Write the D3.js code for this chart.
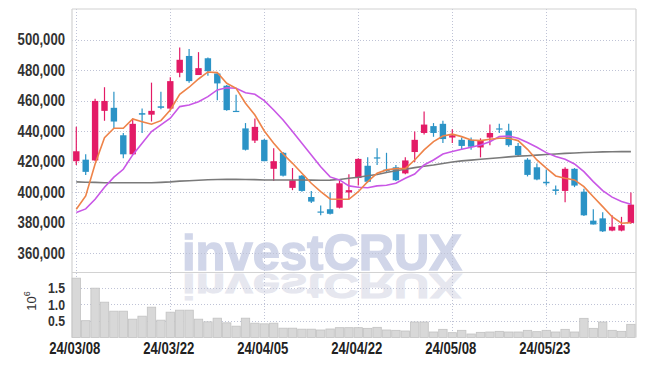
<!DOCTYPE html>
<html><head><meta charset="utf-8">
<script src="https://cdn.jsdelivr.net/npm/d3@7/dist/d3.min.js"></script>
<style>
html,body{margin:0;padding:0;background:#fff;}
svg{display:block;}
</style></head>
<body>
<svg id="chart" width="645" height="366"></svg>
<script>
const dates = ["24/03/08","24/03/11","24/03/12","24/03/13","24/03/14","24/03/15","24/03/18","24/03/19","24/03/20","24/03/21",
"24/03/22","24/03/25","24/03/26","24/03/27","24/03/28","24/03/29","24/04/01","24/04/02","24/04/03","24/04/04",
"24/04/05","24/04/08","24/04/09","24/04/11","24/04/12","24/04/15","24/04/16","24/04/17","24/04/18","24/04/19",
"24/04/22","24/04/23","24/04/24","24/04/25","24/04/26","24/04/29","24/04/30","24/05/02","24/05/03","24/05/07",
"24/05/08","24/05/09","24/05/10","24/05/13","24/05/14","24/05/16","24/05/17","24/05/20","24/05/21","24/05/22",
"24/05/23","24/05/24","24/05/27","24/05/28","24/05/29","24/05/30","24/05/31","24/06/03","24/06/04","24/06/05"];
const dateTicks = ["24/03/08","24/03/22","24/04/05","24/04/22","24/05/08","24/05/23"];
const open  = [420500,421500,421000,453500,455500,437500,425000,452000,451000,456500,455000,478500,489500,477000,488000,478000,470000,453500,442000,434000,434500,415500,426000,403000,411000,397000,387500,389000,390000,400000,409500,417500,423000,415000,416500,412500,426500,439000,443500,445000,436000,434500,434500,429500,436000,442000,440500,430500,421500,416500,407000,402000,401000,415500,400500,381500,383000,375000,375000,380000];
const high  = [443000,425000,461500,469000,466000,439000,448500,455000,472000,466000,475500,495000,494000,492000,488500,478500,470500,464000,445500,448500,435000,429000,426500,416000,411500,401000,391500,400000,408000,412000,422500,423000,429000,426000,418000,423000,440000,453000,445500,447000,441500,436000,436000,435500,444500,445000,445000,432500,422500,419000,415000,404500,416500,416000,402500,389000,387000,385000,384000,400000];
const low   = [418000,411500,420500,447000,442000,422500,424500,439000,446500,454500,454000,475500,472000,477000,476500,460500,453500,453000,427500,432500,420500,407500,410500,401500,400500,393000,385000,385500,389500,395500,404500,406500,418000,413500,407500,412000,420000,438000,436500,432500,432500,428000,428000,423000,431000,439000,430000,423500,410500,408000,404500,398500,393500,403500,384500,379000,374000,374500,374500,379500];
const close = [427000,413500,460000,460000,446500,425000,445000,451000,453500,455500,473000,487000,473000,481500,479500,471500,454000,453000,428000,443000,420500,420500,411000,408000,401000,394000,387000,386000,406000,401500,422000,407000,422500,414000,408000,421000,434500,444500,439000,435000,437500,430500,430000,434000,439000,441500,431000,424500,411500,408500,406000,401000,415500,404500,385000,379000,374500,377500,378500,392000];
const ma5  = [389000,397700,418700,435900,442100,442100,448200,446400,444700,447100,454100,464400,469000,474400,479000,478600,471600,468300,458500,450800,440300,432300,425200,419100,412600,406000,400500,395700,395500,395500,400500,407100,412600,414800,415600,415600,421300,427900,433300,437000,438200,436600,434400,434000,434900,435500,435500,434000,428300,421300,415900,410800,409300,408200,403800,397200,390700,384100,379800,380200];
const ma10 = [386800,389200,395500,403400,410000,415200,424600,432300,439900,444300,448700,456300,457400,459500,462800,467200,468700,468300,465400,464400,460200,454100,447500,439900,432300,424600,416900,410200,408200,404300,403400,403100,404300,404700,406000,409300,412100,418000,421300,425200,426800,428300,429600,431100,433300,436600,437000,435500,432700,429600,426100,423500,421800,418700,413600,407100,401200,396900,394000,392300];
const maLong = [406900,406700,406600,406400,406400,406400,406400,406400,406400,406600,406900,407400,407700,408000,408300,408500,408600,408600,408500,408400,408200,408200,408200,408200,408200,408100,408000,408100,408500,409300,410000,411000,411800,413100,414200,415200,416300,417200,418000,419000,420000,420700,421200,421800,422300,422800,423300,423800,424100,424500,424900,425200,425600,425900,426200,426400,426600,426700,426800,426800];
const volume = [1.78,0.505,1.48,1.06,0.79,0.79,0.55,0.64,0.91,0.52,0.76,0.82,0.82,0.55,0.47,0.58,0.44,0.34,0.58,0.43,0.41,0.43,0.28,0.28,0.25,0.25,0.225,0.255,0.295,0.295,0.295,0.275,0.305,0.225,0.215,0.195,0.465,0.465,0.165,0.245,0.145,0.215,0.105,0.155,0.165,0.185,0.165,0.165,0.215,0.175,0.215,0.165,0.245,0.165,0.575,0.275,0.465,0.215,0.185,0.395];
const priceTicks = [360000,380000,400000,420000,440000,460000,480000,500000];
const volTicks = [0.5,1.0,1.5];

const L = 72, R = 636, PT = 9, PB = 272.5, VT = 272.5, VB = 337.5;
const svg = d3.select("#chart");
const x = d3.scaleBand().domain(dates).range([L - 0.4, R - 0.4]).padding(0);
const cx = d => x(d) + x.bandwidth() / 2;
const y = d3.scaleLinear().domain([347500, 520300]).range([PB, PT]);
const yv = d3.scaleLinear().domain([0, 1.95]).range([VB, VT]);
const FONT = "'Liberation Sans',Arial,sans-serif";
const SX = 0.82;

// watermark
const wm = svg.append("g");
wm.append("text").attr("x", 182).attr("y", 270)
  .attr("font-family", FONT).attr("font-weight", "bold")
  .attr("font-size", 50).attr("fill", "#d1d6e9").attr("stroke", "#d1d6e9").attr("stroke-width", 1.4)
  .attr("textLength", 280).attr("lengthAdjust", "spacingAndGlyphs").text("investCRUX");
wm.append("g").attr("transform", "translate(0,274) scale(1,-0.72)")
  .append("text").attr("x", 182).attr("y", 0)
  .attr("font-family", FONT).attr("font-weight", "bold")
  .attr("font-size", 50).attr("fill", "#e6e7ef").attr("stroke", "#e6e7ef").attr("stroke-width", 1.4)
  .attr("textLength", 280).attr("lengthAdjust", "spacingAndGlyphs").text("investCRUX");

// grid
const grid = svg.append("g").attr("stroke", "#bfc3d6").attr("stroke-width", 1).attr("stroke-dasharray", "1,2");
grid.selectAll(".hp").data(priceTicks).enter().append("line")
  .attr("x1", L).attr("x2", R).attr("y1", d => Math.round(y(d)) + 0.5).attr("y2", d => Math.round(y(d)) + 0.5);
grid.selectAll(".hv").data(volTicks).enter().append("line")
  .attr("x1", L).attr("x2", R).attr("y1", d => Math.round(yv(d)) + 0.5).attr("y2", d => Math.round(yv(d)) + 0.5);
grid.selectAll(".vx").data(dateTicks).enter().append("line")
  .attr("x1", d => Math.round(cx(d)) + 0.5).attr("x2", d => Math.round(cx(d)) + 0.5).attr("y1", PT).attr("y2", VB);

// frame
const fr = svg.append("g").attr("stroke", "#d2d2d2").attr("stroke-width", 1.2).attr("fill", "none");
fr.append("line").attr("x1", L).attr("x2", R).attr("y1", PT).attr("y2", PT);
fr.append("line").attr("x1", L).attr("x2", L).attr("y1", PT).attr("y2", VB);
fr.append("line").attr("x1", R).attr("x2", R).attr("y1", PT).attr("y2", VB);
fr.append("line").attr("x1", L).attr("x2", R).attr("y1", PB).attr("y2", PB);

// volume bars
svg.append("g").selectAll("rect").data(dates).enter().append("rect")
  .attr("x", d => x(d) + 0.5).attr("width", x.bandwidth() - 1)
  .attr("y", (d, i) => yv(volume[i])).attr("height", (d, i) => VB - yv(volume[i]))
  .attr("fill", "#d8d8d8").attr("stroke", "#c2c2c2").attr("stroke-width", 0.8);

// candles
const UP = "#e31b66", DOWN = "#2b93c6";
const cg = svg.append("g");
dates.forEach((d, i) => {
  const col = close[i] > open[i] ? UP : DOWN;
  const xc = cx(d);
  cg.append("line").attr("x1", xc).attr("x2", xc).attr("y1", y(high[i])).attr("y2", y(low[i]))
    .attr("stroke", col).attr("stroke-width", 1.2);
  const top = y(Math.max(open[i], close[i])), bot = y(Math.min(open[i], close[i]));
  cg.append("rect").attr("x", xc - 3.2).attr("width", 6.4).attr("y", top).attr("height", Math.max(1.2, bot - top))
    .attr("fill", col);
});

// moving averages
const line = arr => d3.line().x((v, i) => cx(dates[i])).y(v => y(v))(arr);
svg.append("path").attr("d", line(maLong)).attr("fill", "none").attr("stroke", "#7a7a7a").attr("stroke-width", 1.6);
svg.append("path").attr("d", line(ma10)).attr("fill", "none").attr("stroke", "#c957e6").attr("stroke-width", 1.6);
svg.append("path").attr("d", line(ma5)).attr("fill", "none").attr("stroke", "#ee8349").attr("stroke-width", 1.6);

// axes labels (condensed via horizontal scale)
function label(g, tx, ty, anchor, size, fill, txt) {
  g.append("g").attr("transform", `translate(${tx},${ty}) scale(${SX},1)`)
    .append("text").attr("text-anchor", anchor)
    .attr("font-family", FONT).attr("font-size", size).attr("font-weight", "bold").attr("fill", fill)
    .text(txt);
}
const fmt = d3.format(",");
const ya = svg.append("g");
priceTicks.forEach(d => label(ya, 65, y(d) + 5.5, "end", 16, "#333", fmt(d)));
const va = svg.append("g");
volTicks.forEach(d => label(va, 65, yv(d) + 5.5, "end", 15, "#333", d3.format(".1f")(d)));
const xa = svg.append("g");
dateTicks.forEach(d => label(xa, cx(d) - 1.5, 353.5, "middle", 16, "#222", d));
const ex = svg.append("text").attr("transform", "translate(36,301) rotate(-90)").attr("text-anchor", "middle")
  .attr("font-family", FONT).attr("font-size", 13).attr("fill", "#333");
ex.append("tspan").text("10");
ex.append("tspan").attr("dy", -6).attr("font-size", 9).text("6");
</script>
</body></html>
